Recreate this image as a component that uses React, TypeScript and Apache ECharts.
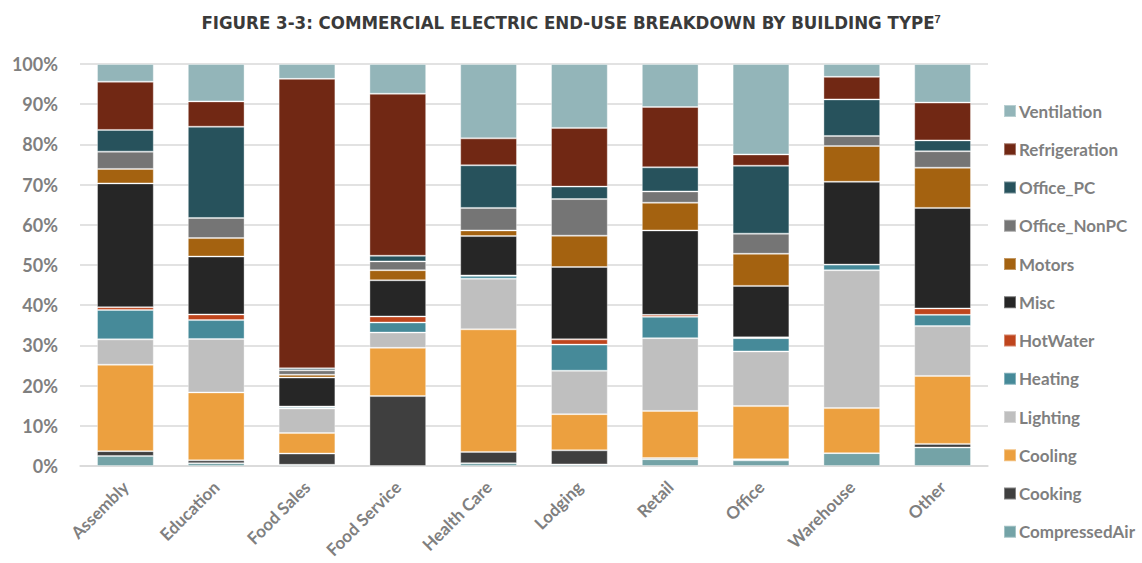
import React, { useEffect, useRef } from "react";
import * as echarts from "echarts";

const categories = ["Assembly", "Education", "Food Sales", "Food Service", "Health Care", "Lodging", "Retail", "Office", "Warehouse", "Other"];

const compressedAir = [2.5, 0.7, 0.3, 0, 0.7, 0.4, 1.7, 1.4, 3.2, 4.6];
const cooking = [1.2, 0.7, 2.8, 17.4, 2.8, 3.5, 0.3, 0.3, 0, 0.9];
const cooling = [21.5, 16.9, 5.1, 12.0, 30.5, 9.0, 11.7, 13.2, 11.2, 16.9];
const lighting = [6.3, 13.3, 6.1, 3.8, 12.6, 10.8, 18.1, 13.6, 34.3, 12.4];
const heating = [7.3, 4.7, 0.4, 2.5, 0.7, 6.5, 5.3, 3.3, 1.4, 2.8];
const hotWater = [0.7, 1.4, 0.1, 1.5, 0.1, 1.3, 0.5, 0.2, 0, 1.6];
const misc = [30.8, 14.4, 7.2, 9.0, 9.8, 18.0, 21.0, 12.8, 20.6, 25.0];
const motors = [3.6, 4.6, 0.7, 2.5, 1.4, 7.8, 6.9, 8.0, 8.9, 10.0];
const officeNonPC = [4.3, 5.0, 1.1, 2.2, 5.6, 9.1, 2.8, 5.0, 2.5, 4.1];
const officePC = [5.4, 22.7, 0.5, 1.4, 10.6, 3.1, 6.0, 16.9, 9.1, 2.7];
const refrigeration = [12.0, 6.3, 72.0, 40.3, 6.7, 14.6, 15.0, 2.8, 5.6, 9.4];
const ventilation = [4.4, 9.3, 3.7, 7.4, 18.5, 15.9, 10.7, 22.5, 3.2, 9.6];

const yTicks = [0, 10, 20, 30, 40, 50, 60, 70, 80, 90, 100];

const seriesDefs = [
  { name: "CompressedAir", data: compressedAir, color: "#74a3a7" },
  { name: "Cooking", data: cooking, color: "#3f3f3f" },
  { name: "Cooling", data: cooling, color: "#eca03f" },
  { name: "Lighting", data: lighting, color: "#bfbfbf" },
  { name: "Heating", data: heating, color: "#468a99" },
  { name: "HotWater", data: hotWater, color: "#bf451d" },
  { name: "Misc", data: misc, color: "#262626" },
  { name: "Motors", data: motors, color: "#a46210" },
  { name: "Office_NonPC", data: officeNonPC, color: "#757575" },
  { name: "Office_PC", data: officePC, color: "#27525c" },
  { name: "Refrigeration", data: refrigeration, color: "#712814" },
  { name: "Ventilation", data: ventilation, color: "#93b5b9" },
];

const legendOrder = [
  "Ventilation", "Refrigeration", "Office_PC", "Office_NonPC", "Motors", "Misc",
  "HotWater", "Heating", "Lighting", "Cooling", "Cooking", "CompressedAir",
];

export default function App() {
  const ref = useRef<HTMLDivElement>(null);
  useEffect(() => {
    if (!ref.current) return;
    const chart = echarts.init(ref.current, null, { renderer: "svg" });
    const font = "Lato, 'Open Sans', sans-serif";
    chart.setOption({
      animation: false,
      backgroundColor: "#ffffff",
      title: {
        text: "{a|FIGURE 3-3: COMMERCIAL ELECTRIC END-USE BREAKDOWN BY BUILDING TYPE}{s|7}",
        left: "center",
        top: 8,
        textStyle: {
          rich: {
            a: { fontFamily: "'Liberation Sans Narrow', 'DejaVu Sans Condensed', sans-serif", fontWeight: "bold", fontSize: 18.5, color: "#3a3a3a" },
            s: { fontFamily: "'Liberation Sans Narrow', sans-serif", fontWeight: "bold", fontSize: 11, color: "#3a3a3a", verticalAlign: "top", padding: [0, 0, 8, 0] },
          },
        },
      },
      grid: { left: 80, right: 154, top: 64, bottom: 97, containLabel: false },
      legend: {
        orient: "vertical",
        left: 998,
        top: 96,
        data: legendOrder,
        icon: "rect",
        itemWidth: 12,
        itemHeight: 12,
        itemGap: 18.25,
        textStyle: { fontFamily: font, fontWeight: "bold", fontSize: 17, color: "#7f7f7f", lineHeight: 20, padding: [0, 0, 0, -2] },
        selectedMode: false,
      },
      xAxis: {
        type: "category",
        data: categories,
        axisLine: { lineStyle: { color: "#d9d9d9", width: 1.5 } },
        axisTick: { show: false },
        axisLabel: { rotate: 45, margin: 18, fontFamily: font, fontWeight: "bold", fontSize: 17, color: "#7f7f7f", interval: 0 },
      },
      yAxis: {
        type: "value",
        min: 0,
        max: 100,
        interval: 10,
        axisLine: { show: false },
        axisTick: { show: false },
        splitLine: { lineStyle: { color: "#d9d9d9", width: 1.5 } },
        axisLabel: {
          margin: 22,
          fontFamily: font,
          fontWeight: "bold",
          fontSize: 18,
          color: "#7f7f7f",
          formatter: (v: number) => (yTicks.includes(v) ? v + "%" : ""),
        },
      },
      series: seriesDefs.map((s) => ({
        name: s.name,
        type: "bar",
        stack: "total",
        data: s.data,
        barCategoryGap: "37.5%",
        itemStyle: { color: s.color, borderColor: "rgba(255,255,255,0.35)", borderWidth: 1 },
      })),
    });
    return () => chart.dispose();
  }, []);
  return <div ref={ref} style={{ width: 1142, height: 563, position: "absolute", left: 0, top: 0 }} />;
}
